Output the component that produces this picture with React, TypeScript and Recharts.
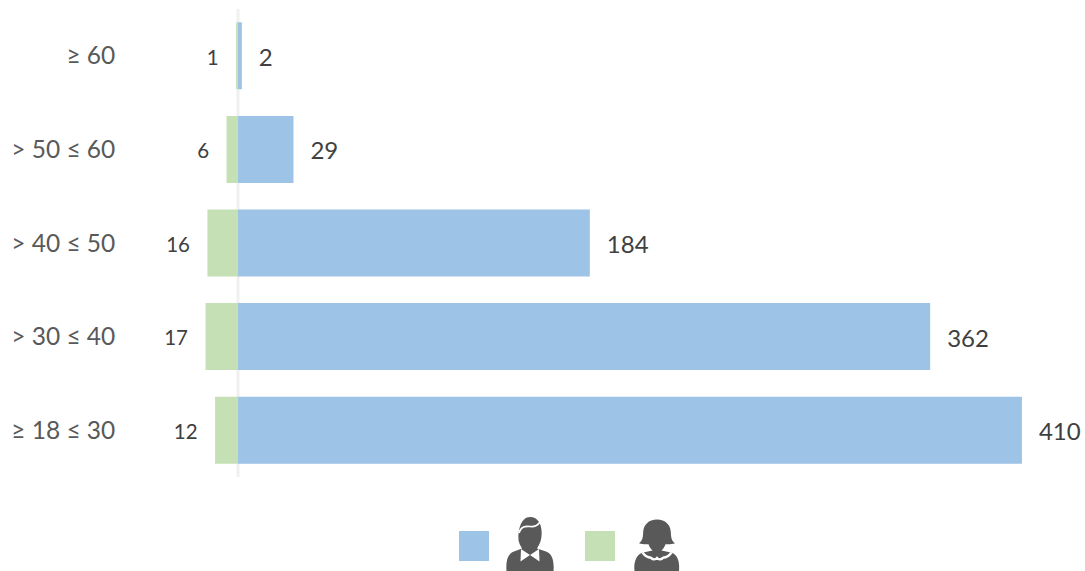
import React from 'react';
import { BarChart, Bar, XAxis, YAxis, LabelList, ReferenceLine } from 'recharts';

const categories = ['≥ 60', '> 50 ≤ 60', '> 40 ≤ 50', '> 30 ≤ 40', '≥ 18 ≤ 30'];
const maleValues = [2, 29, 184, 362, 410];
const femaleValues = [1, 6, 16, 17, 12];

const MALE_COLOR = '#9DC3E6';
const FEMALE_COLOR = '#C5E0B4';
const ICON_COLOR = '#595959';
const FONT = 'Lato, "Open Sans", sans-serif';

// women are stacked to the left of zero, labels show the absolute number
const data = categories.map((category, i) => ({
  category,
  male: maleValues[i],
  female: -femaleValues[i],
}));

const absLabel = (value: any) => Math.abs(Number(value));

const LegendIcons = () => (
  <svg width={1085} height={571} style={{ position: 'absolute', left: 0, top: 0, pointerEvents: 'none' }}>
    <rect x={459} y={531} width={30} height={30} fill={MALE_COLOR} />
    <rect x={585} y={531} width={30} height={30} fill={FEMALE_COLOR} />

    {/* man */}
    <path
      d="M506.5 571 C505.5 559 509 553 514 551.5 L522 548.5 C520 545 519 543 518.5 540 C518 530 521 517 530 517 C539 517 542.5 526 541.5 536 C541 542 539 545 537 548.5 L546 551.5 C551 553 554.5 559 553.5 571 Z"
      fill={ICON_COLOR}
    />
    <path d="M519 533 C521 527 524 526 530 526.5 C534 527 538 525 540 522" fill="none" stroke="#fff" strokeWidth={1.6} />
    <path d="M521 549 L520.5 561.5 L530 555 L539.5 561.5 L539 549 L530 555 Z" fill="#fff" />

    {/* woman */}
    <path
      d="M657 519.5 C665.5 519.5 670.5 525 670.8 532 C671 537 671.5 541 675 543.3 C672 544.4 668 544.5 665.5 544.2 C664.5 547 663 549 661.5 550.5 L672 552.8 C677.5 555 680 562 679 571 L634.5 571 C633.5 562 636.5 555 642 552.8 L652.5 550.5 C651 549 649.5 547 648.5 544.2 C646 544.5 642 544.4 639 543.3 C642.5 541 643 537 643.2 532 C643.5 525 648.5 519.5 657 519.5 Z"
      fill={ICON_COLOR}
    />
    <path d="M642.5 552.5 C645 556 648 557.5 651 557.8 C653 559.8 655.5 559.8 657 558 C658.5 559.8 661 559.8 663 557.8 C666 557.5 669 556 671.5 552.5" fill="none" stroke="#fff" strokeWidth={2.4} />
  </svg>
);

export default function App() {
  return (
    <div style={{ position: 'absolute', left: 0, top: 0, width: 1085, height: 571, background: '#fff', fontFamily: FONT }}>
      <BarChart
        width={1085}
        height={571}
        data={data}
        layout="vertical"
        stackOffset="sign"
        barCategoryGap="14.2%"
        margin={{ top: 9, right: 5.7, bottom: 94, left: 0 }}
      >
        <XAxis type="number" domain={[-60, 440]} hide allowDataOverflow />
        <YAxis
          type="category"
          dataKey="category"
          width={123.3}
          axisLine={false}
          tickLine={false}
          tickMargin={0}
          tick={{ fontSize: 24.5, fill: '#595959', fontFamily: FONT, dx: -2 }}
        />
        <ReferenceLine x={0} stroke="#F0F0F0" strokeWidth={3} zIndex={50} />
        <Bar dataKey="male" stackId="a" fill={MALE_COLOR} isAnimationActive={false}>
          <LabelList
            dataKey="male"
            position="right"
            offset={17}
            dy={1.5}
            style={{ fontSize: 24, fill: '#404040', fontFamily: FONT }}
          />
        </Bar>
        <Bar dataKey="female" stackId="a" fill={FEMALE_COLOR} isAnimationActive={false}>
          <LabelList
            dataKey="female"
            position="right"
            offset={17.5}
            dy={1.5}
            formatter={absLabel}
            style={{ fontSize: 20.5, fill: '#404040', fontFamily: FONT }}
          />
        </Bar>
      </BarChart>
      <LegendIcons />
    </div>
  );
}
